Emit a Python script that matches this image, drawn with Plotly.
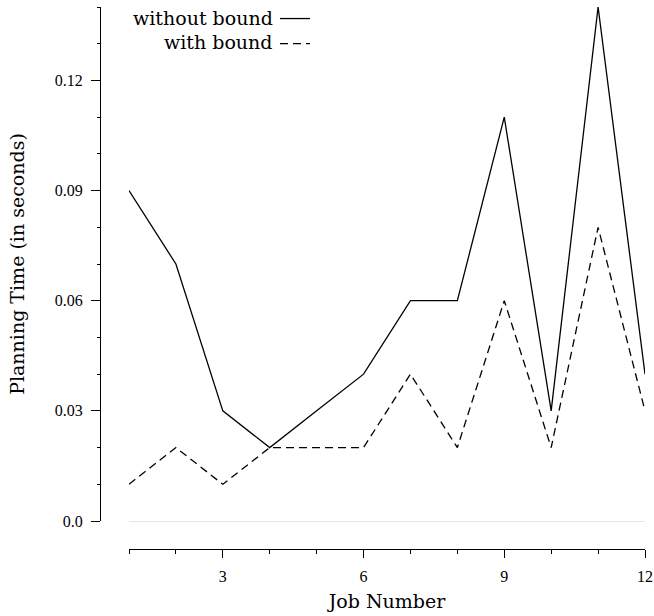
import plotly.graph_objects as go

jobs = list(range(1, 13))
without_bound = [0.09, 0.07, 0.03, 0.02, 0.03, 0.04, 0.06, 0.06, 0.11, 0.03, 0.14, 0.04]
with_bound = [0.01, 0.02, 0.01, 0.02, 0.02, 0.02, 0.04, 0.02, 0.06, 0.02, 0.08, 0.03]
series_names = ["without bound", "with bound"]
x_ticks = [3, 6, 9, 12]
y_ticks = [0.0, 0.03, 0.06, 0.09, 0.12]
y_tick_labels = ["0.0", "0.03", "0.06", "0.09", "0.12"]

FONT = "DejaVu Serif"
TICKFONT = "Liberation Serif"

fig = go.Figure()
fig.add_trace(go.Scatter(x=jobs, y=without_bound, mode="lines", name=" ",
                         line=dict(color="black", width=1.3)))
fig.add_trace(go.Scatter(x=jobs, y=with_bound, mode="lines", name="  ",
                         line=dict(color="black", width=1.3, dash="8px,5px")))

W, H = 654, 616
ml, mr, mt, mb = 100, 9, 7, 67
pw = W - ml - mr
ph = H - mt - mb
x_start_px = 129
y_bottom_px = 521

fig.update_layout(
    width=W, height=H,
    margin=dict(l=ml, r=mr, t=mt, b=mb, autoexpand=False),
    paper_bgcolor="white", plot_bgcolor="white",
    font=dict(family=FONT, color="black", size=13),
    showlegend=True,
    legend=dict(x=(275 - ml) / pw, y=1 + (mt - 1) / ph, xanchor="left", yanchor="top",
                font=dict(size=17, family=FONT), bgcolor="rgba(0,0,0,0)",
                tracegroupgap=0, itemwidth=30),
    xaxis=dict(domain=[(x_start_px - ml) / pw, 1], range=[1, 12],
               anchor="free", position=0, automargin=False,
               tickvals=x_ticks, ticks="outside", ticklen=8, tickcolor="black",
               ticklabelstandoff=5,
               showline=True, linecolor="black", linewidth=1.2,
               showgrid=False, zeroline=False,
               minor=dict(dtick=1, ticks="outside", ticklen=4, tickcolor="black", showgrid=False),
               tickfont=dict(size=16, family=TICKFONT, color="black"),
               title=dict(text="Job Number", font=dict(size=19, family=FONT), standoff=10)),
    yaxis=dict(domain=[(H - mb - y_bottom_px) / ph, 1], range=[0, 0.14],
               anchor="free", position=0, automargin=False,
               tickvals=y_ticks, ticktext=y_tick_labels,
               ticks="outside", ticklen=9, tickcolor="black",
               ticklabelstandoff=5,
               showline=True, linecolor="black", linewidth=1.2,
               showgrid=False, zeroline=True, zerolinecolor="#e6e6e6", zerolinewidth=1,
               minor=dict(dtick=0.01, tick0=0, ticks="outside", ticklen=3, tickcolor="black", showgrid=False),
               tickfont=dict(size=16, family=TICKFONT, color="black"),
               title=dict(text="Planning Time (in seconds)", font=dict(size=19, family=FONT), standoff=24)),
)

for i, name in enumerate(series_names):
    fig.add_annotation(xref="paper", yref="paper", x=(275 - ml) / pw, y=1 - ((18 + 24 * i) - mt) / ph,
                       text=name, showarrow=False, xanchor="right", yanchor="middle",
                       font=dict(size=19, family=FONT))

fig.write_html("out.html", config={"displayModeBar": False},
               post_script="document.body.style.margin='0';")
